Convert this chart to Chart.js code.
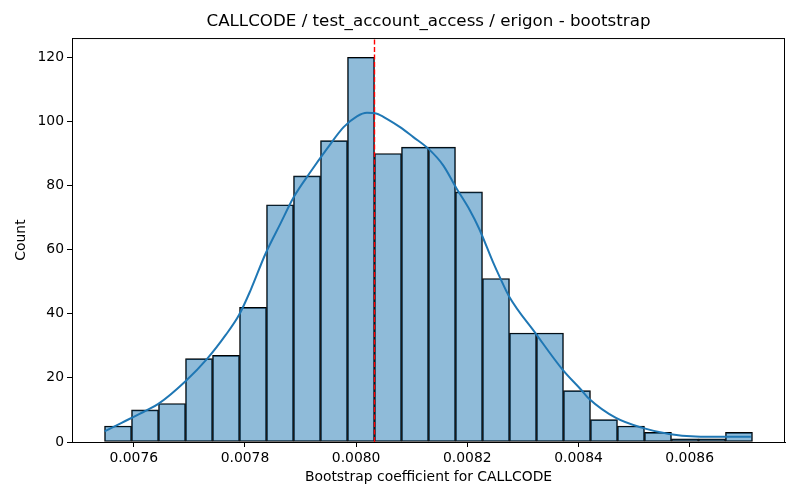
<!DOCTYPE html>
<html>
<head>
<meta charset="utf-8">
<title>CALLCODE bootstrap</title>
<script src="https://cdn.jsdelivr.net/npm/chart.js@4.4.1/dist/chart.umd.min.js"></script>
<style>
  html, body { margin: 0; padding: 0; background: #fff; }
  #wrap { width: 800px; height: 500px; }
</style>
</head>
<body>
<div id="wrap"><canvas id="hist"></canvas></div>
<script>
// histogram counts, left to right
const counts = [5, 10, 12, 26, 27, 42, 74, 83, 94, 120, 90, 92, 92, 78, 51, 34, 34, 16, 7, 5, 3, 1, 1, 3];
const binStart = 0.0075473;
const binWidth = 0.00004857;

// kde curve
const kdeX = [0.0075473, 0.0075772, 0.0076220, 0.0076441, 0.0076925, 0.0077326, 0.0077654, 0.0077892,
  0.0078102, 0.0078371, 0.0078640, 0.0078878, 0.0079177, 0.0079477, 0.0079774, 0.0080014, 0.0080194,
  0.0080373, 0.0080552, 0.0080790, 0.0081029, 0.0081298, 0.0081566, 0.0081806, 0.0082045, 0.0082211,
  0.0082462, 0.0082582, 0.0082749, 0.0083228, 0.0083717, 0.0084047, 0.0084195, 0.0084674, 0.0085151,
  0.0085629, 0.0086108, 0.0086584, 0.0087100];
const kdeY = [3.3, 5.9, 9.8, 11.9, 18.9, 26.1, 33.4, 39.6,
  47.4, 58.8, 68.2, 76.4, 84.2, 91.5, 98.2, 101.6, 102.7,
  102.4, 100.8, 98.2, 95.1, 91.5, 86.3, 79.1, 72.3, 66.6,
  56.1, 51.5, 45.5, 33.9, 22.5, 16.3, 13.4, 7.5, 4.4,
  2.5, 1.7, 1.6, 1.6];

const estimate = 0.0080330;   // red dashed line
const xTicks = [0.0076, 0.0078, 0.0080, 0.0082, 0.0084, 0.0086];
const yTicks = [0, 20, 40, 60, 80, 100, 120];
const xMin = 0.0074888, xMax = 0.0087715;
const yMax = 126;

const barPoints = counts.map((c, i) => ({ x: binStart + binWidth * (i + 0.5), y: c }));
const kdePoints = kdeX.map((x, i) => ({ x: x, y: kdeY[i] }));

// draw the top and right spines too
const frame = {
  id: 'frame',
  afterDraw(chart) {
    const a = chart.chartArea, ctx = chart.ctx;
    ctx.save();
    ctx.strokeStyle = '#000';
    ctx.lineWidth = 1;
    ctx.strokeRect(a.left + 0.5, a.top + 0.5, a.right - a.left - 1, a.bottom - a.top);
    ctx.restore();
  }
};

const font = "'DejaVu Sans', sans-serif";

new Chart(document.getElementById('hist'), {
  type: 'bar',
  data: {
    datasets: [{
      type: 'bar',
      data: barPoints,
      backgroundColor: 'rgba(31,119,180,0.5)',
      borderColor: '#000',
      borderWidth: 1,
      borderSkipped: false,
      barPercentage: 1,
      categoryPercentage: 1,
      order: 3
    }, {
      type: 'line',
      data: kdePoints,
      borderColor: '#1f77b4',
      borderWidth: 2,
      pointRadius: 0,
      tension: 0.4,
      cubicInterpolationMode: 'monotone',
      order: 2
    }, {
      type: 'line',
      data: [{ x: estimate, y: 0 }, { x: estimate, y: yMax }],
      borderColor: 'red',
      borderWidth: 1.4,
      borderDash: [5, 2.5],
      pointRadius: 0,
      order: 1
    }]
  },
  options: {
    responsive: true,
    maintainAspectRatio: false,
    animation: false,
    events: [],
    layout: { padding: { left: 0, right: 15, top: 0, bottom: 0 } },
    plugins: {
      legend: { display: false },
      tooltip: { enabled: false },
      title: {
        display: true,
        fullSize: false,
        text: 'CALLCODE / test_account_access / erigon - bootstrap',
        color: '#000',
        font: { family: font, size: 16.7, weight: 'normal' },
        padding: { top: 12, bottom: 6 }
      }
    },
    scales: {
      x: {
        type: 'linear',
        min: xMin,
        max: xMax,
        offset: false,
        afterBuildTicks: s => { s.ticks = xTicks.map(v => ({ value: v })); },
        afterFit: s => { s.height = 58; },
        ticks: {
          color: '#000',
          font: { family: font, size: 13.9 },
          padding: 3,
          maxRotation: 0,
          callback: v => v.toFixed(4)
        },
        grid: { display: true, drawOnChartArea: false, drawTicks: true, tickLength: 5, color: '#000', offset: false },
        border: { display: true, color: '#000', width: 1 },
        title: {
          display: true,
          text: 'Bootstrap coefficient for CALLCODE',
          color: '#000',
          font: { family: font, size: 13.9 },
          padding: { top: 0, bottom: 14.7 }
        }
      },
      y: {
        min: 0,
        max: yMax,
        afterBuildTicks: s => { s.ticks = yTicks.map(v => ({ value: v })); },
        afterFit: s => { s.width = 72; },
        ticks: {
          color: '#000',
          font: { family: font, size: 13.9 },
          padding: 3
        },
        grid: { display: true, drawOnChartArea: false, drawTicks: true, tickLength: 5, color: '#000' },
        border: { display: true, color: '#000', width: 1 },
        title: {
          display: true,
          text: 'Count',
          color: '#000',
          font: { family: font, size: 13.9 },
          padding: { top: 12.7, bottom: 0 }
        }
      }
    }
  },
  plugins: [frame]
});
</script>
</body>
</html>
